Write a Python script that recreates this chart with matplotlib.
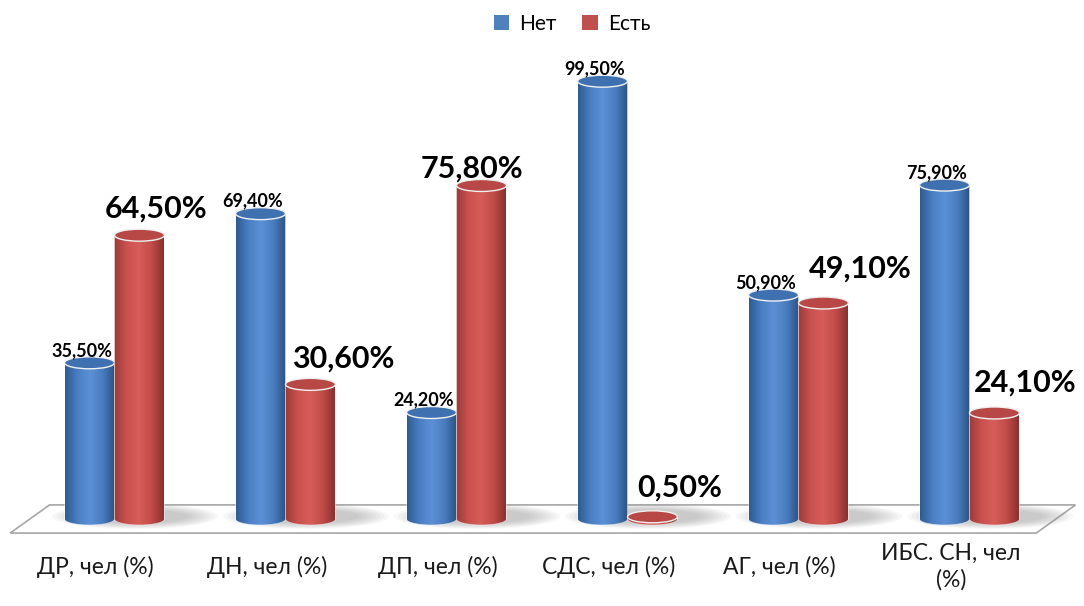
import numpy as np
import matplotlib
matplotlib.use("Agg")
import matplotlib.pyplot as plt
from matplotlib.patches import Polygon, Ellipse, Patch
from matplotlib.colors import to_rgb

plt.rcParams['font.family'] = ['Lato', 'DejaVu Sans']

categories = ['ДР, чел (%)', 'ДН, чел (%)', 'ДП, чел (%)', 'СДС, чел (%)',
              'АГ, чел (%)', 'ИБС. СН, чел\n(%)']
net = [35.5, 69.4, 24.2, 99.5, 50.9, 75.9]
est = [64.5, 30.6, 75.8, 0.5, 49.1, 24.1]
series_names = ['Нет', 'Есть']

# pixel offsets of the big red labels (dx, dy above top)
red_dx = [17, 33, -10, 27, 37, 31]
red_dy = [18, 17, 8, 20, 25, 21]

BAR_W = 0.292
RY = 1.36  # half height of the cylinder ellipses (data units)

blue_grad = ['#2f5a90', '#4a7fc4', '#5b90d6', '#4a7dbf', '#2b5183']
red_grad = ['#9a3b38', '#c9514e', '#d65d59', '#c24c49', '#8a302e']


def make_gradient(cols, n=200):
    pos = np.linspace(0, 1, len(cols))
    rgb = np.array([to_rgb(c) for c in cols])
    xs = np.linspace(0, 1, n)
    out = np.stack([np.interp(xs, pos, rgb[:, k]) for k in range(3)], axis=-1)
    return out[np.newaxis, :, :]


def cylinder(ax, xc, h, grad_cols, top_col, z):
    x0, x1 = xc - BAR_W / 2, xc + BAR_W / 2
    t = np.linspace(np.pi, 2 * np.pi, 60)
    bottom = np.column_stack([xc + BAR_W / 2 * np.cos(t), RY * np.sin(t)])
    verts = [(x0, h)] + [tuple(p) for p in bottom] + [(x1, h)]
    body = Polygon(verts, closed=True, facecolor='none', edgecolor='none', zorder=z)
    ax.add_patch(body)
    im = ax.imshow(make_gradient(grad_cols), extent=(x0, x1, -RY, h),
                   aspect='auto', interpolation='bilinear', zorder=z)
    im.set_clip_path(body)
    outline = Polygon(verts, closed=False, facecolor='none',
                      edgecolor='white', lw=0.6, alpha=0.5, zorder=z + 0.1)
    ax.add_patch(outline)
    top = Ellipse((xc, h), BAR_W, 2 * RY, facecolor=top_col,
                  edgecolor='#f0f0f0', lw=1.0, zorder=z + 0.2)
    ax.add_patch(top)


fig = plt.figure(figsize=(10.84, 6.06), dpi=100)
ax = fig.add_axes([0, 0, 1, 1])
ax.set_autoscale_on(False)
ax.axis('off')

n = len(categories)
# pixel mapping: x = (px - 114.5) / 171, y = (519 - row) / 4.4
ax.set_xlim(-114.5 / 171, (1084 - 114.5) / 171)
ax.set_ylim((519 - 606) / 4.4, 519 / 4.4)

# floor
floor = Polygon([(-0.38, 3.2), (n - 0.38, 3.2), (n - 0.61, -3.2), (-0.61, -3.2)],
                closed=True, facecolor='white', edgecolor='#a6a6a6', lw=1.2, zorder=1)
ax.add_patch(floor)

# soft shadows on the floor
for i in range(n):
    for k in range(8):
        sh = Ellipse((i + 0.12, 0.6), 0.62 + 0.05 * k, 3.2 + 0.35 * k,
                     facecolor='#7f7f7f', edgecolor='none', alpha=0.06, zorder=2)
        ax.add_patch(sh)

for i in range(n):
    xb = i - BAR_W / 2
    xr = i + BAR_W / 2
    cylinder(ax, xb, net[i], blue_grad, '#3f70b0', 3 + i)
    cylinder(ax, xr, est[i], red_grad, '#b84845', 3.5 + i)

    ax.annotate(f"{net[i]:.2f}%".replace('.', ','), (xb, net[i]),
                xytext=(-8 * 0.72, 7 * 0.72), textcoords='offset points',
                ha='center', va='baseline', fontsize=13, fontweight='bold',
                color='black', zorder=20)
    ax.annotate(f"{est[i]:.2f}%".replace('.', ','), (xr, est[i]),
                xytext=(red_dx[i] * 0.72, red_dy[i] * 0.72), textcoords='offset points',
                ha='center', va='baseline', fontsize=22, fontweight='bold',
                color='black', zorder=20)

    # category labels sit a little left of the group (perspective of the floor)
    ax.text(i - 0.11, -10.9, categories[i], ha='center', va='center', fontsize=16.5,
            color='#1a1a1a', linespacing=1.3)

handles = [Patch(facecolor='#4f81bd', edgecolor='none'),
           Patch(facecolor='#c0504d', edgecolor='none')]
fig.legend(handles, series_names, loc='center', bbox_to_anchor=(572 / 1084, 1 - 24 / 606),
           ncol=2, frameon=False, fontsize=15, handlelength=0.75, handleheight=0.75,
           handletextpad=0.5, columnspacing=1.2)

fig.savefig('out.png', dpi=100)
